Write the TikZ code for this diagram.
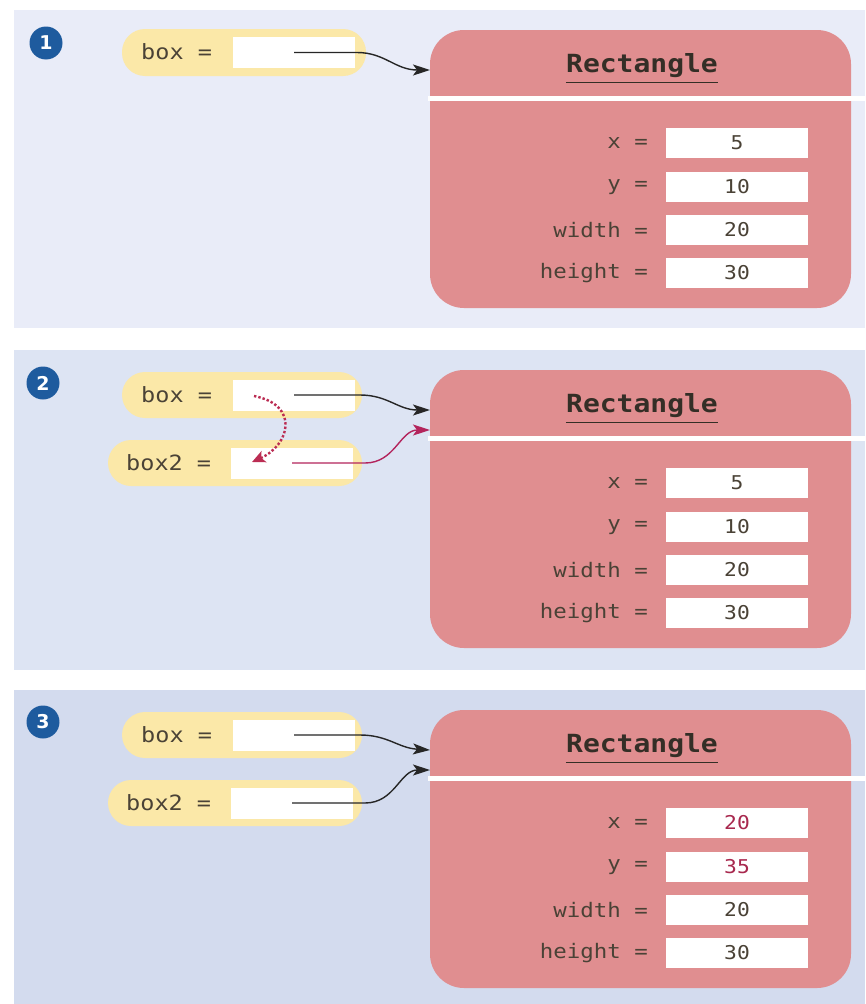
\documentclass[tikz,border=0pt]{standalone}
\usepackage{fontspec}
\setmainfont{DejaVu Sans}
\newfontfamily\monof[FakeStretch=1.12]{DejaVu Sans Mono}
\usetikzlibrary{arrows.meta}
\definecolor{pA}{HTML}{E9ECF8}
\definecolor{pB}{HTML}{DDE4F3}
\definecolor{pC}{HTML}{D3DBEE}
\definecolor{objfill}{HTML}{E08E90}
\definecolor{pill}{HTML}{FBE8A8}
\definecolor{txt}{HTML}{4A4236}
\definecolor{numblue}{HTML}{1E5B9E}
\definecolor{redarrow}{HTML}{B3245C}
\definecolor{newval}{HTML}{A8284E}
\tikzset{
  panel/.style={fill=#1, draw=none},
  numcirc/.style={circle, fill=numblue, minimum size=33pt, inner sep=0pt, text=white, font=\bfseries\fontsize{19}{19}\selectfont},
  pillbox/.style={fill=pill, draw=none, rounded corners=23pt},
  refbox/.style={fill=white, draw=none, minimum width=122pt, minimum height=31pt, inner sep=0pt},
  varlbl/.style={anchor=west, text=txt, font=\monof\fontsize{21}{21}\selectfont, inner sep=0pt},
  obj/.style={fill=objfill, draw=none, rounded corners=34pt},
  title/.style={text=txt!70!black, font=\monof\bfseries\fontsize{25}{25}\selectfont, inner sep=0pt},
  fieldlbl/.style={anchor=east, text=txt, font=\monof\fontsize{20}{20}\selectfont, inner sep=0pt},
  valbox/.style={fill=white, draw=none, minimum width=142pt, minimum height=30pt, inner sep=0pt, text=txt, font=\monof\fontsize{19}{19}\selectfont},
  ptr/.style={draw=black!85, line width=1.4pt, -{Stealth[length=17pt,width=11pt,inset=4pt]}},
  redptr/.style={draw=redarrow, line width=1.4pt, -{Stealth[length=17pt,width=11pt,inset=4pt]}},
}
\begin{document}
\begin{tikzpicture}[x=1pt,y=-1pt]
\useasboundingbox (0,0) rectangle (865,1004);
\fill[white] (0,0) rectangle (865,1004);
% panels
\fill[panel=pA] (14,10) rectangle (865,328);
\fill[panel=pB] (14,350) rectangle (865,670);
\fill[panel=pC] (14,690) rectangle (865,1004);
% numbers
\node[numcirc] (n1) at (46,43) {1};
\node[numcirc] (n2) at (43,383) {2};
\node[numcirc] (n3) at (43,722) {3};

% objects
\foreach \dy/\tag in {0/a,340/b,680/c}{
  \fill[obj] (430,30+\dy) rectangle (851,308+\dy);
  \draw[white, line width=5pt] (428,98+\dy) -- (865,98+\dy);
  \node[title] (title\tag) at (642,66+\dy) {Rectangle};
  \draw[txt!70!black, line width=1.4pt] ([yshift=-4pt]title\tag.south west) -- ([yshift=-4pt]title\tag.south east);
  \coordinate (in1\tag) at (430,70+\dy);
  \coordinate (in2\tag) at (430,90+\dy);
}
% field rows
\foreach \dy/\tag/\xv/\yv/\vc in {0/a/5/10/txt,340/b/5/10/txt,680/c/20/35/newval}{
  \node[fieldlbl] (lx\tag) at (648,143+\dy) {x =};
  \node[valbox, text=\vc] (vx\tag) at (737,143+\dy) {\xv};
  \node[fieldlbl] (ly\tag) at (648,187+\dy) {y =};
  \node[valbox, text=\vc] (vy\tag) at (737,187+\dy) {\yv};
  \node[fieldlbl] (lw\tag) at (648,230+\dy) {width =};
  \node[valbox] (vw\tag) at (737,230+\dy) {20};
  \node[fieldlbl] (lh\tag) at (648,273+\dy) {height =};
  \node[valbox] (vh\tag) at (737,273+\dy) {30};
}

% panel 1 variable
\fill[pillbox] (122,29) rectangle (366,76);
\node[varlbl] (box1l) at (141,52) {box =};
\node[refbox] (box1) at (294,52.5) {};
\draw[ptr] (box1.center) -- (357,52.5) .. controls (385,52.5) and (395,70) .. (in1a);

% panel 2 variables
\fill[pillbox] (122,372) rectangle (362,418);
\node[varlbl] (box2l) at (141,395) {box =};
\node[refbox] (box2) at (294,395) {};
\fill[pillbox] (108,440) rectangle (362,486);
\node[varlbl] (box22l) at (126,463) {box2 =};
\node[refbox] (box22) at (292,463) {};
\draw[ptr] (box2.center) -- (360,395) .. controls (388,395) and (398,410) .. (430,410);
\draw[redptr] (box22.center) -- (365,463) .. controls (395,463) and (400,430) .. (430,430);
\draw[redarrow!90!orange, line width=2.4pt, dotted, -{Stealth[length=13pt,width=12pt,inset=3pt]}] (254,396) .. controls (300,405) and (290,445) .. (252,462);

% panel 3 variables
\fill[pillbox] (122,712) rectangle (362,758);
\node[varlbl] (box3l) at (141,735) {box =};
\node[refbox] (box3) at (294,735) {};
\fill[pillbox] (108,780) rectangle (362,826);
\node[varlbl] (box32l) at (126,803) {box2 =};
\node[refbox] (box32) at (292,803) {};
\draw[ptr] (box3.center) -- (360,735) .. controls (388,735) and (398,748) .. (in1c);
\draw[ptr] (box32.center) -- (365,803) .. controls (395,803) and (400,770) .. (430,770);
\end{tikzpicture}
\end{document}
